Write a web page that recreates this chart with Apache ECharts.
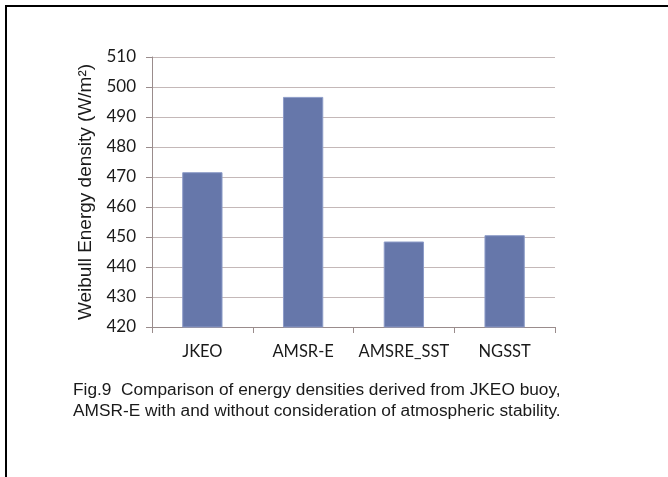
<!DOCTYPE html>
<html>
<head>
<meta charset="utf-8">
<script src="https://cdn.jsdelivr.net/npm/echarts@6/dist/echarts.min.js"></script>
<style>
  html, body { margin: 0; padding: 0; background: #fff; }
  #chart { width: 668px; height: 477px; }
</style>
</head>
<body>
<div id="chart"></div>
<script>
// Weibull energy density per data source
const categories = ['JKEO', 'AMSR-E', 'AMSRE_SST', 'NGSST'];
const energyDensity = [471.6, 496.7, 448.5, 450.6];
const yTicks = [420, 430, 440, 450, 460, 470, 480, 490, 500, 510];
const captionLines = [
  'Fig.9  Comparison of energy densities derived from JKEO buoy,',
  'AMSR-E with and without consideration of atmospheric stability.'
];

const chart = echarts.init(document.getElementById('chart'), null, { renderer: 'canvas' });

const gridColor = '#c4b8b8';
const axisColor = '#9a8c8c';

chart.setOption({
  animation: false,
  backgroundColor: '#ffffff',
  grid: { left: 152, right: 113, top: 57, bottom: 150 },
  xAxis: {
    type: 'category',
    data: categories,
    axisLine: { show: true, lineStyle: { color: axisColor, width: 1 } },
    axisTick: { show: true, interval: 0, alignWithLabel: false, length: 6, lineStyle: { color: axisColor } },
    axisLabel: { interval: 0, color: '#1a1a1a', fontFamily: 'Lato', fontSize: 16.5, margin: 16 }
  },
  yAxis: {
    type: 'value',
    min: yTicks[0],
    max: yTicks[yTicks.length - 1],
    interval: 10,
    name: 'Weibull Energy density (W/m²)',
    nameLocation: 'middle',
    nameGap: 55,
    nameTextStyle: { color: '#1a1a1a', fontFamily: 'Liberation Sans', fontSize: 19 },
    axisLine: { show: true, lineStyle: { color: axisColor, width: 1 } },
    axisTick: { show: true, length: 6, lineStyle: { color: axisColor } },
    axisLabel: { color: '#1a1a1a', fontFamily: 'Lato', fontSize: 17, margin: 16 },
    splitLine: { show: true, lineStyle: { color: gridColor, width: 1 } }
  },
  series: [{
    type: 'bar',
    data: energyDensity,
    barWidth: '40%',
    itemStyle: { color: '#6677aa', borderColor: '#8d9cc8', borderWidth: 1 }
  }],
  graphic: [
    {
      type: 'rect',
      shape: { x: 6, y: 6, width: 700, height: 500 },
      style: { fill: 'none', stroke: '#000', lineWidth: 2 },
      silent: true
    },
    {
      type: 'text',
      left: 73,
      top: 380,
      style: {
        text: captionLines.join('\n'),
        font: '17.3px "Liberation Sans"',
        lineHeight: 21,
        fill: '#1a1a1a'
      }
    }
  ]
});
</script>
</body>
</html>
